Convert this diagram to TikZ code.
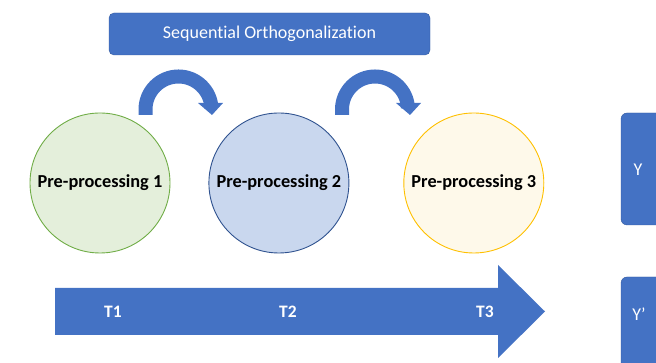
\documentclass[tikz,border=0pt]{standalone}
\usepackage{fontspec}
\setmainfont{Carlito}[Ligatures={NoCommon}]
\usetikzlibrary{positioning}
\definecolor{myblue}{RGB}{68,114,196}
\definecolor{boxline}{RGB}{52,90,160}
\definecolor{greenfill}{RGB}{228,239,219}
\definecolor{greenline}{RGB}{112,173,71}
\definecolor{bluefill}{RGB}{201,215,238}
\definecolor{blueline}{RGB}{47,82,143}
\definecolor{goldfill}{RGB}{254,249,234}
\definecolor{goldline}{RGB}{255,192,0}

\begin{document}
\begin{tikzpicture}[x=1pt,y=1pt,
	stage/.style={circle, minimum size=140pt, inner sep=0pt, line width=0.9pt, font=\fontsize{18.3}{21}\selectfont\bfseries},
	tlabel/.style={text=white, font=\fontsize{17.5}{20}\selectfont\bfseries},
	ylabel/.style={text=white, font=\fontsize{18}{20}\selectfont}]

				\useasboundingbox (0,0) rectangle (656,363);
				\clip (0,0) rectangle (656,363);

				\node[stage, draw=greenline, fill=greenfill] (pre1) at (100,180) {Pre-processing 1};
				\node[stage, draw=blueline, fill=bluefill] (pre2) [right = 38pt of pre1] {Pre-processing 2};
				\node[stage, draw=goldline, fill=goldfill] (pre3) [right = 54pt of pre2] {Pre-processing 3};

				\node[draw=boxline, fill=myblue, rounded corners=5pt, minimum width=321pt, minimum height=42pt, text=white, font=\fontsize{18}{20}\selectfont] (seq) at (269.5,329) {Sequential Orthogonalization};

				% curved arrows between the stages
				\draw[myblue, line width=14pt] (145.5,248) -- (145.5,253.5) arc (180:3:33);
				\fill[myblue] (198,260) -- (223,260) -- (212,248) -- cycle;
				\draw[myblue, line width=14pt] (342,248) -- (342,253.5) arc (180:3:33);
				\fill[myblue] (396,260) -- (421,260) -- (410,248) -- cycle;

				% time axis
				\fill[myblue] (55,75) -- (498,75) -- (498,98) -- (545,51.5) -- (498,5) -- (498,28) -- (55,28) -- cycle;
				\node[tlabel] (t1) at (113,51) {T1};
				\node[tlabel] (t2) at (288,51) {T2};
				\node[tlabel] (t3) at (485,51) {T3};

				% outputs
				\draw[fill=myblue, draw=boxline, rounded corners=6pt] (621,250) rectangle (690,138);
				\node[ylabel] (y) at (638,193) {Y};
				\draw[fill=myblue, draw=boxline, rounded corners=6pt] (621,86) rectangle (690,-20);
				\node[ylabel] (yp) at (639,49) {Y’};

\end{tikzpicture}
\end{document}
